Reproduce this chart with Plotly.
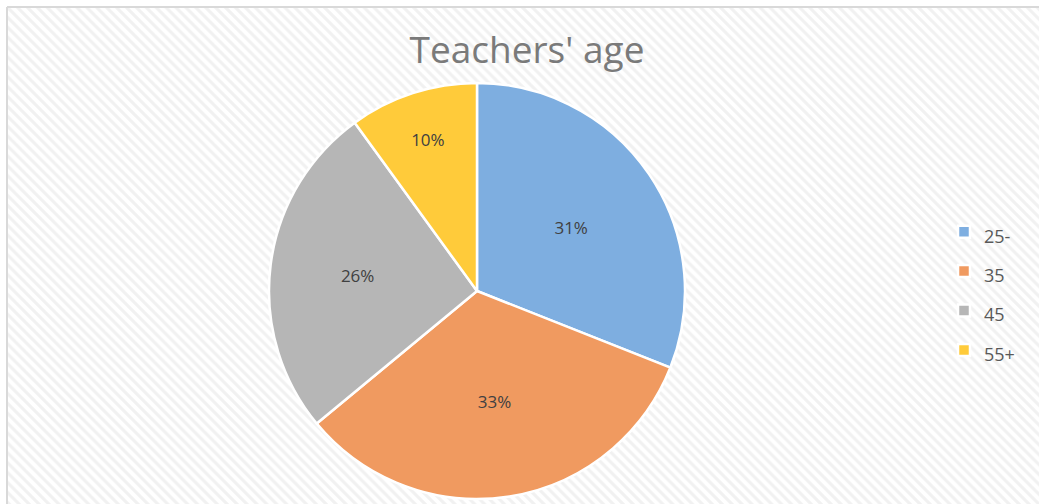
import plotly.graph_objects as go

labels = ["25-", "35", "45", "55+"]
values = [31, 33, 26, 10]
colors = ["#7eaee0", "#f09a60", "#b6b6b6", "#ffcb3a"]

W, H = 1039, 504
cx, cy, r = 477, 291, 208

fig = go.Figure()

# subtle striped background
fig.add_trace(go.Bar(
    x=[0], y=[1], width=[1], xaxis="x", yaxis="y",
    marker=dict(color="#ffffff", line=dict(width=0),
                pattern=dict(shape="\\", fgcolor="#e4e4e4", bgcolor="#ffffff", size=7, solidity=0.45)),
    showlegend=False, hoverinfo="skip",
))

legend_labels = [f"<span style='font-size:18px'>{l}</span>" for l in labels]

fig.add_trace(go.Pie(
    labels=legend_labels, values=values, sort=False, direction="clockwise", rotation=0,
    marker=dict(colors=colors, line=dict(color="#ffffff", width=2.5)),
    texttemplate="%{percent:.0%}", textinfo="percent", textposition="inside",
    insidetextorientation="horizontal",
    textfont=dict(family="Open Sans", size=17, color="#404040"),
    domain=dict(x=[(cx - r) / W, (cx + r) / W], y=[1 - (cy + r) / H, 1 - (cy - r) / H]),
    hoverinfo="percent",
))

fig.update_layout(
    width=W, height=H,
    margin=dict(l=0, r=0, t=0, b=0),
    paper_bgcolor="#ffffff", plot_bgcolor="#ffffff",
    xaxis=dict(range=[-0.5, 0.5], visible=False, domain=[0.007, 1], fixedrange=True),
    yaxis=dict(range=[0, 1], visible=False, domain=[0, 0.986], fixedrange=True),
    bargap=0,
    title=dict(text="Teachers' age", x=527 / W, xanchor="center", y=1 - 50 / H, yanchor="middle",
               font=dict(family="Open Sans", size=37, color="#7a7a7a")),
    legend=dict(x=944 / W, y=1 - 207 / H, xanchor="left", yanchor="top",
                font=dict(family="Open Sans", size=28, color="#595959"),
                itemwidth=30, tracegroupgap=0, bgcolor="rgba(0,0,0,0)"),
    shapes=[
        dict(type="line", xref="paper", yref="paper", x0=7 / W, x1=7 / W, y0=0, y1=1 - 7 / H,
             line=dict(color="#d9d9d9", width=2)),
        dict(type="line", xref="paper", yref="paper", x0=7 / W, x1=1, y0=1 - 7 / H, y1=1 - 7 / H,
             line=dict(color="#d9d9d9", width=2)),
    ],
)

fig.write_html("out.html")
